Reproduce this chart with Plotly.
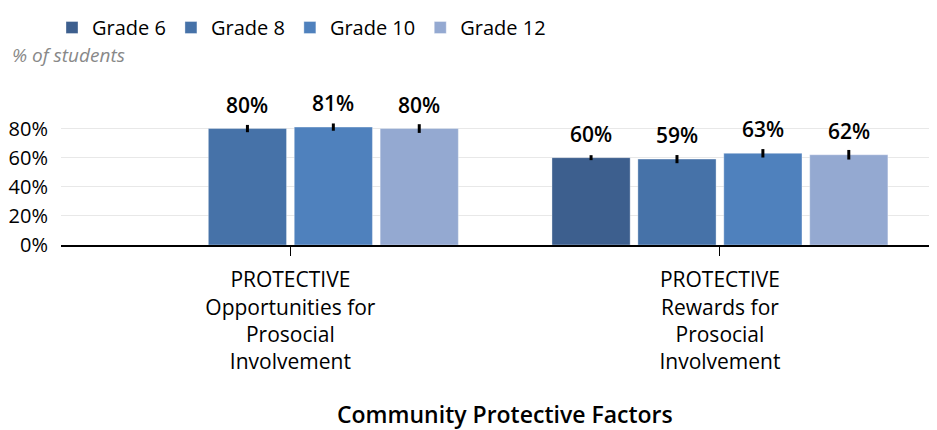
import plotly.graph_objects as go

categories = ["PROTECTIVE<br>Opportunities for<br>Prosocial<br>Involvement",
              "PROTECTIVE<br>Rewards for<br>Prosocial<br>Involvement"]
grades = ["Grade 6", "Grade 8", "Grade 10", "Grade 12"]
values = {
    "Grade 6": [None, 60],
    "Grade 8": [80, 59],
    "Grade 10": [81, 63],
    "Grade 12": [80, 62],
}
errors = {
    "Grade 6": [0, 1.7],
    "Grade 8": [2.5, 2.8],
    "Grade 10": [2.5, 2.9],
    "Grade 12": [3.0, 3.3],
}
colors = ["#3d5f8e", "#4672a8", "#4f81bd", "#94a9d1"]
y_ticks = [0, 20, 40, 60, 80]
y_tick_labels = ["0%", "20%", "40%", "60%", "80%"]

FONT = "Open Sans"
# page body has an 8px margin, so the figure is made 8px smaller
W, H = 929, 422
L, R, T, B = 53, 1, 106, 185
PW, PH = W - L - R, H - T - B

fig = go.Figure()
for g, c in zip(grades, colors):
    fig.add_trace(go.Bar(
        name=g, x=categories, y=values[g],
        marker=dict(color=c, line=dict(color="rgba(255,255,255,0.35)", width=1)),
        error_y=dict(type="data", array=errors[g], color="black", thickness=3, width=0),
    ))

n = len(grades)
pitch = 0.2
annotations = []
for i, g in enumerate(grades):
    for j, v in enumerate(values[g]):
        if v is None:
            continue
        annotations.append(dict(
            x=j + (i - (n - 1) / 2) * pitch, y=v, xref="x", yref="y",
            text=f"{v}%", showarrow=False, yanchor="bottom", yshift=8,
            font=dict(family=FONT, size=21, color="black", weight=600),
        ))

annotations.append(dict(
    x=-(L - 2) / PW, y=1, xref="paper", yref="paper", xanchor="left", yanchor="middle",
    yshift=59, text="<i>% of students</i>", showarrow=False,
    font=dict(family=FONT, size=19, color="#888888"),
))
annotations.append(dict(
    x=0.507, y=-169 / PH, xref="paper", yref="paper",
    xanchor="center", yanchor="middle", text="Community Protective Factors",
    showarrow=False, font=dict(family=FONT, size=23, color="black", weight=600),
))

fig.update_layout(
    width=W, height=H,
    margin=dict(l=L, r=R, t=T, b=B, autoexpand=False),
    barmode="group", bargap=0.2, bargroupgap=0.09,
    plot_bgcolor="white", paper_bgcolor="white",
    font=dict(family=FONT, size=21, color="black"),
    showlegend=True,
    legend=dict(orientation="h", x=44 / W, xanchor="left", y=1, yanchor="top",
                yref="container", xref="container", font=dict(size=20),
                traceorder="normal"),
    annotations=annotations,
)
fig.update_xaxes(
    range=[-0.534, 1.503], showline=True, linecolor="black", linewidth=2,
    ticks="outside", ticklen=9, tickcolor="black", tickwidth=1,
    tickfont=dict(size=21), showgrid=False, automargin=False, ticklabelstandoff=6,
)
fig.update_yaxes(
    range=[0, 90], tickvals=y_ticks, ticktext=y_tick_labels,
    showgrid=True, gridcolor="#e8e8e8", gridwidth=1, zeroline=False,
    showline=False, tickfont=dict(size=20), ticks="", automargin=False,
    ticklabelstandoff=12,
)

fig.write_html("out.html")
